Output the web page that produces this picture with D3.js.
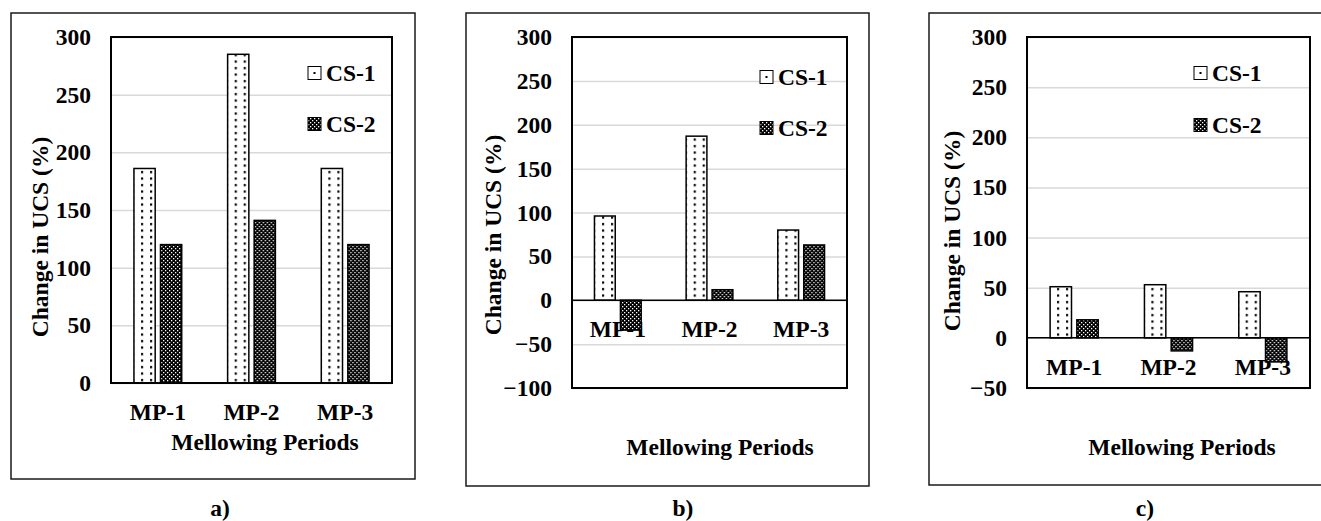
<!DOCTYPE html>
<html>
<head>
<meta charset="utf-8">
<script src="https://cdn.jsdelivr.net/npm/d3@7"></script>
<style>
  body { margin: 0; background: #fff; }
  text { font-family: "Liberation Serif", "Times New Roman", serif; font-weight: bold; font-size: 23.5px; fill: #000; }
</style>
</head>
<body>
<svg id="chart" width="1321" height="521"></svg>
<script>
// data
const categories = ["MP-1", "MP-2", "MP-3"];
const seriesNames = ["CS-1", "CS-2"];
const panelLabels = ["a)", "b)", "c)"];

const aCS1 = [186, 285, 186];
const aCS2 = [120, 141, 120];
const bCS1 = [96, 187, 80];
const bCS2 = [-34, 12, 63];
const cCS1 = [51, 53, 46];
const cCS2 = [18, -13, -24];

const aTicks = [0, 50, 100, 150, 200, 250, 300];
const bTicks = [-100, -50, 0, 50, 100, 150, 200, 250, 300];
const cTicks = [-50, 0, 50, 100, 150, 200, 250, 300];

const xTitle = "Mellowing Periods";
const yTitle = "Change in UCS (%)";

// layout of each panel
const panels = [
  {label: panelLabels[0], s1: aCS1, s2: aCS2, ticks: aTicks,
   box: [11, 13, 415, 479], plot: [111, 37, 392, 383],
   yT: [40, 237], xT: [265, 442], leg: [308, 73, 124], lab: [220, 508]},
  {label: panelLabels[1], s1: bCS1, s2: bCS2, ticks: bTicks,
   box: [466, 13, 869, 486], plot: [572, 37, 847, 388],
   yT: [493, 235], xT: [720, 447], leg: [760, 77, 128], lab: [683, 508]},
  {label: panelLabels[2], s1: cCS1, s2: cCS2, ticks: cTicks,
   box: [929, 13, 1330, 485], plot: [1027, 37, 1310, 388],
   yT: [952, 231], xT: [1182, 447], leg: [1194, 73, 125], lab: [1145, 508]}
];

const svg = d3.select("#chart");

// fill patterns
const defs = svg.append("defs");
const dots = defs.append("pattern")
    .attr("id", "dots").attr("patternUnits", "userSpaceOnUse")
    .attr("width", 9).attr("height", 6.5);
dots.append("rect").attr("width", 9).attr("height", 6.5).attr("fill", "#fff");
dots.append("rect").attr("x", 3).attr("y", 2).attr("width", 2.2).attr("height", 2.2).attr("fill", "#000");

const checks = defs.append("pattern")
    .attr("id", "checks").attr("patternUnits", "userSpaceOnUse")
    .attr("width", 4).attr("height", 4);
checks.append("rect").attr("width", 4).attr("height", 4).attr("fill", "#000");
checks.append("rect").attr("x", 0).attr("y", 0).attr("width", 1.3).attr("height", 1.3).attr("fill", "#fff");
checks.append("rect").attr("x", 2).attr("y", 2).attr("width", 1.3).attr("height", 1.3).attr("fill", "#fff");

const fills = ["url(#dots)", "url(#checks)"];

panels.forEach(p => {
  const [bx0, by0, bx1, by1] = p.box;
  const [px0, py0, px1, py1] = p.plot;

  // outer frame
  svg.append("rect")
      .attr("x", bx0).attr("y", by0)
      .attr("width", bx1 - bx0).attr("height", by1 - by0)
      .attr("fill", "none").attr("stroke", "#1a1a1a").attr("stroke-width", 1.5);

  const y = d3.scaleLinear()
      .domain(d3.extent(p.ticks))
      .range([py1, py0]);

  const x0 = d3.scaleBand()
      .domain(categories)
      .range([px0, px1]);

  const bw = x0.bandwidth();
  const x1 = d3.scaleBand()
      .domain(seriesNames)
      .range([bw * 0.245, bw * 0.755])
      .paddingInner(0.2);

  const g = svg.append("g");

  // gridlines
  g.append("g")
      .attr("transform", `translate(${px0},0)`)
      .call(d3.axisLeft(y).tickValues(p.ticks).tickSize(-(px1 - px0)).tickFormat(""))
      .call(s => s.select(".domain").remove())
      .call(s => s.selectAll("line").attr("stroke", "#d9d9d9").attr("stroke-width", 1.5));

  // y tick labels
  g.append("g")
      .attr("transform", `translate(${px0},0)`)
      .call(d3.axisLeft(y).tickValues(p.ticks).tickSize(0).tickPadding(20))
      .call(s => s.select(".domain").remove())
      .call(s => s.selectAll("text")
          .style("font-family", "'Liberation Serif', serif")
          .style("font-weight", "bold")
          .style("font-size", "23.5px")
          .attr("fill", "#000"));

  // category labels
  g.selectAll(".cat")
      .data(categories)
      .enter().append("text")
      .attr("class", "cat")
      .attr("x", d => x0(d) + bw / 2)
      .attr("y", y(0) + 29)
      .attr("dy", "0.35em")
      .attr("text-anchor", "middle")
      .text(d => d);

  // bars
  const rows = categories.map((c, i) => ({cat: c, vals: [p.s1[i], p.s2[i]]}));
  const grp = g.selectAll(".grp")
      .data(rows)
      .enter().append("g")
      .attr("transform", d => `translate(${x0(d.cat)},0)`);

  grp.selectAll("rect")
      .data(d => d.vals.map((v, k) => ({name: seriesNames[k], v: v, k: k})))
      .enter().append("rect")
      .attr("x", d => x1(d.name))
      .attr("width", x1.bandwidth())
      .attr("y", d => y(Math.max(0, d.v)))
      .attr("height", d => Math.abs(y(d.v) - y(0)))
      .attr("fill", d => fills[d.k])
      .attr("stroke", "#000")
      .attr("stroke-width", 1.5);

  // zero line
  g.append("line")
      .attr("x1", px0).attr("x2", px1)
      .attr("y1", y(0)).attr("y2", y(0))
      .attr("stroke", "#000").attr("stroke-width", 1.5);

  // plot frame
  g.append("rect")
      .attr("x", px0).attr("y", py0)
      .attr("width", px1 - px0).attr("height", py1 - py0)
      .attr("fill", "none").attr("stroke", "#000").attr("stroke-width", 2);

  // legend
  seriesNames.forEach((n, k) => {
    const ly = p.leg[1 + k];
    const sw = g.append("rect")
        .attr("x", p.leg[0]).attr("y", ly - 6.5)
        .attr("width", 13).attr("height", 13)
        .attr("stroke", "#000").attr("stroke-width", 1);
    if (k === 0) {
      // single centred dot like the original key
      sw.attr("fill", "#fff");
      g.append("rect")
          .attr("x", p.leg[0] + 5.5).attr("y", ly - 1)
          .attr("width", 2).attr("height", 2)
          .attr("fill", "#000");
    } else {
      sw.attr("fill", fills[k]);
    }
    g.append("text")
        .attr("x", p.leg[0] + 18).attr("y", ly)
        .attr("dy", "0.35em")
        .text(n);
  });

  // axis titles
  g.append("text")
      .attr("x", p.xT[0]).attr("y", p.xT[1])
      .attr("dy", "0.35em")
      .attr("text-anchor", "middle")
      .text(xTitle);

  g.append("text")
      .attr("transform", `translate(${p.yT[0]},${p.yT[1]}) rotate(-90)`)
      .attr("dy", "0.35em")
      .attr("text-anchor", "middle")
      .text(yTitle);

  // panel letter
  svg.append("text")
      .attr("x", p.lab[0]).attr("y", p.lab[1])
      .attr("dy", "0.35em")
      .attr("text-anchor", "middle")
      .text(p.label);
});
</script>
</body>
</html>
